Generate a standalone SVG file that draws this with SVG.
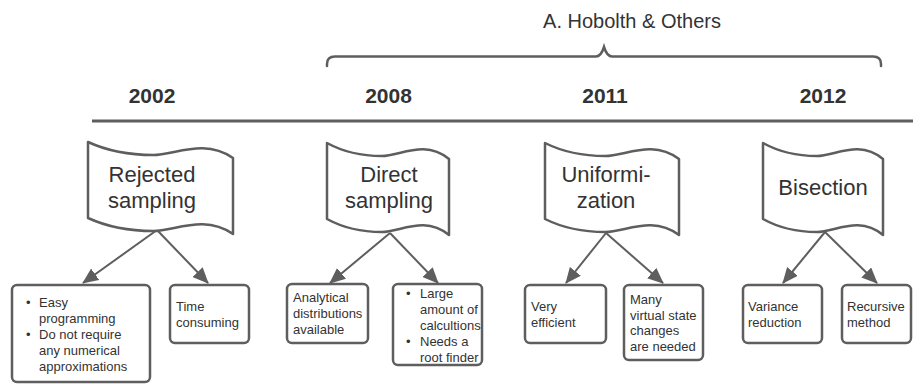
<svg xmlns="http://www.w3.org/2000/svg" width="913" height="385" viewBox="0 0 913 385">
<style>
.bg{fill:#ffffff}
.axis{stroke:#5e5e5e;stroke-width:3;fill:none}
.brace{stroke:#5e5e5e;stroke-width:2.5;fill:none;stroke-linecap:round}
.year{font-family:"Liberation Sans",Arial,sans-serif;font-weight:bold;font-size:21px;fill:#333333;text-anchor:middle}
.title{font-family:"Liberation Sans",Arial,sans-serif;font-size:20px;fill:#333333;text-anchor:middle}
.wave{fill:#ffffff;stroke:#5e5e5e;stroke-width:2.5;stroke-linejoin:round}
.lbl{font-family:"Liberation Sans",Arial,sans-serif;font-size:22px;fill:#333333;text-anchor:middle}
.box{fill:#ffffff;stroke:#5e5e5e;stroke-width:2.5}
.txt{font-family:"Liberation Sans",Arial,sans-serif;font-size:13px;fill:#333333}
.conn{stroke:#5e5e5e;stroke-width:2;fill:none}
</style>
<defs>
<marker id="arr" viewBox="0 0 16 14" refX="15" refY="7" markerWidth="16" markerHeight="14" markerUnits="userSpaceOnUse" orient="auto">
<path d="M0,0 L16,7 L0,14 z" fill="#5e5e5e"/>
</marker>
</defs>
<rect class="bg" x="0" y="0" width="913" height="385"/>

<g id="timeline">
<line class="axis" x1="92" y1="121" x2="913" y2="121"/>
<text class="year" x="152" y="103">2002</text>
<text class="year" x="388.5" y="103">2008</text>
<text class="year" x="605" y="103">2011</text>
<text class="year" x="823" y="103">2012</text>
</g>

<g id="authors">
<path class="brace" d="M327,66 L327,64 Q327,56.5 335,56.5 L596,56.5 Q601,56.5 604,47 Q607,56.5 612,56.5 L873,56.5 Q881,56.5 881,64 L881,66"/>
<text class="title" x="632" y="28">A. Hobolth &amp; Others</text>
</g>

<g id="connectors">
<line class="conn" x1="157" y1="230" x2="83" y2="283" marker-end="url(#arr)"/>
<line class="conn" x1="157" y1="230" x2="208" y2="283" marker-end="url(#arr)"/>
<line class="conn" x1="390" y1="233" x2="330" y2="283" marker-end="url(#arr)"/>
<line class="conn" x1="390" y1="233" x2="438" y2="283" marker-end="url(#arr)"/>
<line class="conn" x1="606" y1="233" x2="566" y2="283" marker-end="url(#arr)"/>
<line class="conn" x1="606" y1="233" x2="663" y2="283" marker-end="url(#arr)"/>
<line class="conn" x1="825" y1="232" x2="783" y2="283" marker-end="url(#arr)"/>
<line class="conn" x1="825" y1="232" x2="877" y2="283" marker-end="url(#arr)"/>
</g>

<g id="rejected">
<path class="wave" d="M88,142 C109.75,152 131.5,155 153.25,155 C175,155 204,138 233,158 L233,234 C204,214 175,231 153.25,231 C131.5,231 109.75,228 88,218 Z"/>
<text class="lbl" x="152" y="181.5">Rejected</text>
<text class="lbl" x="152" y="207.5">sampling</text>
</g>

<g id="direct">
<path class="wave" d="M327,143 C345.3,153 363.6,156 381.9,156 C400.2,156 424.6,139 449,159 L449,235 C424.6,215 400.2,232 381.9,232 C363.6,232 345.3,229 327,219 Z"/>
<text class="lbl" x="389" y="181.5">Direct</text>
<text class="lbl" x="389" y="207.5">sampling</text>
</g>

<g id="uniformization">
<path class="wave" d="M545,143 C565.1,153 585.2,156 605.3,156 C625.4,156 652.2,139 679,159 L679,235 C652.2,215 625.4,232 605.3,232 C585.2,232 565.1,229 545,219 Z"/>
<text class="lbl" x="606" y="181.5">Uniformi-</text>
<text class="lbl" x="606" y="207.5">zation</text>
</g>

<g id="bisection">
<path class="wave" d="M763,143 C781,153 799,156 817,156 C835,156 859,139 883,159 L883,235 C859,215 835,232 817,232 C799,232 781,229 763,219 Z"/>
<text class="lbl" x="823" y="195">Bisection</text>
</g>

<g id="rej-pros">
<rect class="box" x="12" y="285" width="138" height="97" rx="5"/>
<text class="txt" x="26" y="307">•</text><text class="txt" x="39" y="307">Easy</text>
<text class="txt" x="39" y="323">programming</text>
<text class="txt" x="26" y="339">•</text><text class="txt" x="39" y="339">Do not require</text>
<text class="txt" x="39" y="355">any numerical</text>
<text class="txt" x="39" y="371">approximations</text>
</g>

<g id="rej-cons">
<rect class="box" x="170" y="285" width="79" height="58" rx="5"/>
<text class="txt" x="176" y="311">Time</text>
<text class="txt" x="176" y="327">consuming</text>
</g>

<g id="dir-pros">
<rect class="box" x="287" y="284" width="81" height="59" rx="5"/>
<text class="txt" x="293" y="302">Analytical</text>
<text class="txt" x="293" y="318">distributions</text>
<text class="txt" x="293" y="334">available</text>
</g>

<g id="dir-cons">
<rect class="box" x="393" y="284" width="89" height="81" rx="5"/>
<text class="txt" x="406" y="298">•</text><text class="txt" x="420" y="298">Large</text>
<text class="txt" x="420" y="314">amount of</text>
<text class="txt" x="420" y="330">calcultions</text>
<text class="txt" x="406" y="346">•</text><text class="txt" x="420" y="346">Needs a</text>
<text class="txt" x="420" y="362">root finder</text>
</g>

<g id="uni-pros">
<rect class="box" x="525" y="285" width="81" height="58" rx="5"/>
<text class="txt" x="531" y="311">Very</text>
<text class="txt" x="531" y="327">efficient</text>
</g>

<g id="uni-cons">
<rect class="box" x="624" y="285" width="79" height="75" rx="5"/>
<text class="txt" x="630" y="304">Many</text>
<text class="txt" x="630" y="319.5">virtual state</text>
<text class="txt" x="630" y="335">changes</text>
<text class="txt" x="630" y="350.5">are needed</text>
</g>

<g id="bis-pros">
<rect class="box" x="743" y="285" width="79" height="58" rx="5"/>
<text class="txt" x="748" y="311">Variance</text>
<text class="txt" x="748" y="327">reduction</text>
</g>

<g id="bis-cons">
<rect class="box" x="842" y="285" width="69" height="58" rx="5"/>
<text class="txt" x="847" y="311">Recursive</text>
<text class="txt" x="847" y="327">method</text>
</g>
</svg>
